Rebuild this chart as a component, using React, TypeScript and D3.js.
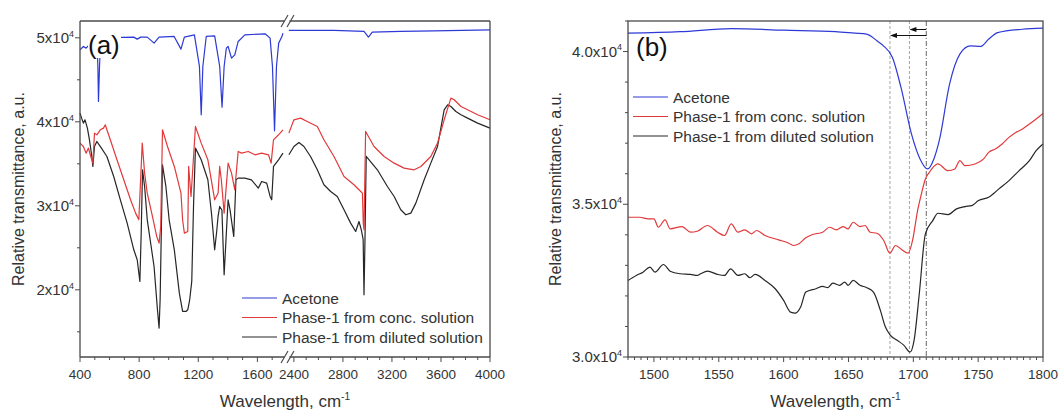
import React, { useEffect, useRef } from 'react';
import * as d3 from 'd3';

// ---- panel (a): full spectra, wavenumber (cm-1) / relative transmittance
const waveAcetoneA = [400, 423, 441, 457, 491, 514, 521, 525, 532, 541, 685, 764, 787, 810, 855, 901, 935, 1037, 1083, 1106, 1174, 1208, 1220, 1231, 1254, 1311, 1345, 1361, 1375, 1390, 1402, 1425, 1447, 1470, 1515, 1652, 1686, 1702, 1716, 1729, 1744, 1766, 1773,
  2359, 2727, 2972, 3008, 3040, 3272, 3545, 4000];
const transAcetoneA = [48571, 48968, 48770, 49048, 50080, 50080, 46587, 42417, 46587, 50080, 50040, 50080, 49841, 50080, 50080, 49365, 50080, 50159, 48651, 50080, 50357, 46587, 40833, 46587, 50159, 50238, 46587, 41746, 46587, 48770, 48968, 47579, 47976, 49563, 50357, 50476, 49960, 46587, 38929, 46587, 49365, 50159, 50556,
  50873, 50873, 50754, 50080, 50675, 50754, 50833, 50952];

const waveConcA = [400, 423, 441, 457, 473, 487, 498, 514, 537, 559, 571, 582, 605, 650, 696, 742, 776, 798, 821, 837, 855, 890, 919, 935, 946, 958, 992, 1038, 1083, 1094, 1106, 1129, 1135, 1151, 1181, 1220, 1265, 1311, 1334, 1345, 1356, 1375, 1402, 1425, 1447, 1470, 1493, 1538, 1584, 1629, 1675, 1693, 1709, 1743, 1773,
  2359, 2400, 2455, 2509, 2591, 2645, 2727, 2809, 2890, 2931, 2959, 2966, 2972, 2985, 3054, 3136, 3218, 3299, 3381, 3436, 3517, 3572, 3626, 3681, 3708, 3763, 3817, 3899, 4000];
const transConcA = [37461, 37064, 36270, 36866, 35873, 35080, 38651, 38453, 39048, 39246, 39643, 39048, 37857, 35476, 33096, 30715, 29127, 28334, 37461, 33889, 31508, 28730, 26349, 25556, 27540, 39048, 37064, 34683, 31508, 28334, 26746, 26945, 34683, 31111, 39445, 37461, 35476, 30715, 31500, 34683, 33096, 29127, 35080, 33889, 31905, 36468, 36270, 36468, 36072, 36270, 36072, 35080, 37857, 38453, 39048,
  38651, 40238, 40437, 40040, 39445, 37857, 35873, 33492, 32500, 31905, 31508, 27937, 27143, 38849, 37064, 35873, 35080, 34484, 34286, 34683, 35873, 37461, 40238, 42818, 42619, 41826, 41429, 40834, 40238];

const waveDilA = [400, 411, 423, 434, 450, 464, 480, 487, 498, 514, 537, 582, 628, 673, 719, 764, 787, 805, 814, 823, 837, 855, 901, 924, 935, 942, 958, 981, 1003, 1038, 1072, 1094, 1117, 1129, 1142, 1156, 1168, 1181, 1220, 1265, 1290, 1311, 1325, 1334, 1345, 1360, 1375, 1390, 1402, 1415, 1440, 1455, 1470, 1515, 1560, 1606, 1629, 1663, 1686, 1697, 1709, 1743, 1773,
  2359, 2400, 2441, 2482, 2536, 2591, 2645, 2700, 2754, 2809, 2863, 2904, 2931, 2950, 2965, 2972, 2980, 2990, 3081, 3163, 3218, 3272, 3313, 3354, 3395, 3463, 3517, 3572, 3626, 3654, 3681, 3722, 3763, 3817, 3899, 4000];
const transDilA = [41032, 40437, 39842, 40238, 39246, 37857, 35873, 34683, 37064, 37659, 37064, 35873, 33492, 30715, 27937, 24762, 23572, 20992, 26746, 34286, 32302, 28334, 22778, 17619, 15436, 18810, 34881, 32302, 28334, 24762, 19603, 17421, 17421, 17619, 18810, 21000, 30000, 36865, 35476, 33096, 29000, 24762, 27000, 28730, 29921, 29500, 21786, 26746, 30715, 29524, 26349, 33096, 33294, 33294, 33096, 32104, 32897, 32699, 31111, 30715, 34683, 35476, 36270,
  36072, 37064, 37540, 37064, 35873, 34286, 32500, 31706, 31111, 29524, 27937, 26945, 28135, 27143, 26000, 19405, 26000, 35873, 34286, 32302, 31111, 29524, 28929, 29127, 30317, 33096, 35080, 37064, 41429, 42024, 41826, 41230, 40834, 40437, 39842, 39246];

// ---- panel (b): carbonyl region
const waveAcetoneB = [1480, 1520, 1560, 1600, 1640, 1655, 1664, 1672, 1677, 1684, 1690.5, 1698.5, 1705, 1711, 1716, 1720, 1728, 1736, 1744, 1752, 1758, 1765, 1784, 1800];
const transAcetoneB = [40601, 40650, 40750, 40700, 40650, 40600, 40570, 40350, 40186, 39800, 38824, 37310, 36500, 36157, 36500, 37082, 38944, 39925, 40186, 40170, 40400, 40620, 40730, 40765];

const waveConcB = [1480, 1489, 1495.6, 1500, 1503.4, 1508.6, 1512.5, 1521.7, 1528.2, 1533.4, 1541.3, 1549.1, 1554.4, 1559.6, 1564.8, 1570, 1575.3, 1579.2, 1585.7, 1596.2, 1604, 1607.9, 1611.8, 1617.1, 1622.3, 1630.1, 1635.4, 1640.6, 1645.8, 1649.7, 1653.6, 1658.9, 1662.8, 1666.7, 1671.9, 1677.2, 1681.9, 1686.3, 1690.2, 1696, 1699.4, 1703.3, 1706, 1709.3, 1712.4, 1718.9, 1726.7, 1732, 1735.9, 1739.8, 1747.6, 1754.2, 1758.1, 1763.3, 1768.5, 1773.8, 1779, 1784.2, 1789.5, 1794.7, 1800];
const transConcB = [34575, 34575, 34523, 34523, 34248, 34490, 34196, 34271, 34085, 34118, 34305, 34085, 33977, 34360, 34085, 34163, 34033, 34141, 33977, 33836, 33726, 33650, 33706, 33902, 34010, 34085, 34248, 34163, 34271, 34196, 34412, 34271, 34305, 34085, 34052, 33814, 33399, 33650, 33543, 33399, 33814, 34794, 35300, 35830, 36046, 36320, 36101, 36157, 36428, 36265, 36320, 36484, 36699, 36810, 36974, 37190, 37353, 37464, 37627, 37791, 37974];

const waveDilB = [1480, 1486.4, 1491.6, 1496.9, 1500.8, 1507.3, 1512.5, 1520.4, 1528.2, 1533.4, 1536, 1541.3, 1549.1, 1554.4, 1559.1, 1564.8, 1570, 1574, 1578, 1585.7, 1593.5, 1600, 1605.3, 1609.2, 1613.1, 1617.1, 1624.9, 1630.1, 1634, 1638, 1643.2, 1647.1, 1649.7, 1653.6, 1658.9, 1664.1, 1669.3, 1674.6, 1678.5, 1682.4, 1687.6, 1692.8, 1697.5, 1700.6, 1704.6, 1709.3, 1715, 1719, 1726.8, 1733.3, 1739.9, 1745.1, 1750.3, 1758.1, 1766, 1773.8, 1781.6, 1789.5, 1794.7, 1800];
const transDilB = [32507, 32670, 32778, 32941, 32778, 33029, 32810, 32725, 32703, 32670, 32725, 32810, 32703, 32670, 32887, 32670, 32725, 32595, 32703, 32507, 32235, 31853, 31471, 31438, 31634, 32124, 32235, 32310, 32270, 32418, 32347, 32451, 32347, 32507, 32347, 32270, 32124, 31526, 30980, 30709, 30546, 30382, 30163, 30546, 32072, 34033, 34467, 34706, 34663, 34850, 34925, 34958, 35121, 35229, 35503, 35775, 36101, 36428, 36755, 36974];

const seriesNames = ['Acetone', 'Phase-1 from conc. solution', 'Phase-1 from diluted solution'];
const seriesColors = ['#2e3ad6', '#e2393b', '#262626'];

const xTicksA = [400, 800, 1200, 1600, 2400, 2800, 3200, 3600, 4000];
const yTicksA = [20000, 30000, 40000, 50000];
const xTicksB = [1500, 1550, 1600, 1650, 1700, 1750, 1800];
const yTicksB = [30000, 35000, 40000];
const markerLinesB = [1682, 1697, 1710];

const FONT = '"Liberation Sans", Arial, sans-serif';
const AXIS = '#4a4a4a';
const TEXT = '#333';

function App() {
  const svgRef = useRef<SVGSVGElement>(null);

  useEffect(() => {
    const svg = d3.select(svgRef.current);
    svg.selectAll('*').remove();
    const top = 21;
    const bottom = 357;

    // superscript helper for labels like 5x10^4
    const supText = (g, x, y, main, sup, size, anchor) => {
      const t = g.append('text')
        .attr('x', x).attr('y', y)
        .attr('text-anchor', anchor)
        .attr('font-family', FONT)
        .attr('font-size', size)
        .attr('fill', TEXT);
      t.append('tspan').text(main);
      t.append('tspan').attr('dy', -size * 0.42).attr('font-size', size * 0.6).text(sup);
      return t;
    };

    const drawLegend = (g, x0, y0) => {
      seriesNames.forEach((name, i) => {
        const y = y0 + i * 19.5;
        g.append('line')
          .attr('x1', x0).attr('x2', x0 + 35)
          .attr('y1', y).attr('y2', y)
          .attr('stroke', seriesColors[i]).attr('stroke-width', 1.2);
        g.append('text')
          .attr('x', x0 + 40).attr('y', y + 5.5)
          .attr('font-family', FONT).attr('font-size', 15.5)
          .attr('fill', TEXT)
          .text(name);
      });
    };

    // ================= panel (a) =================
    const ga = svg.append('g');
    const xa1 = d3.scaleLinear().domain([400, 1780]).range([80, 284]);
    const xa2 = d3.scaleLinear().domain([2360, 4000]).range([289, 490]);
    const xa = (w) => (w < 2000 ? xa1(w) : xa2(w));
    const ya = d3.scaleLinear().domain([12000, 52000]).range([bottom, top]);

    const seriesA = [
      [waveDilA, transDilA, 2],
      [waveConcA, transConcA, 1],
      [waveAcetoneA, transAcetoneA, 0],
    ];
    seriesA.forEach(([ws, ts, ci]) => {
      const pts = ws.map((w, i) => [w, ts[i]]);
      [pts.filter((p) => p[0] < 2000), pts.filter((p) => p[0] > 2000)].forEach((part) => {
        ga.append('path')
          .attr('d', d3.line().x((d) => xa(d[0])).y((d) => ya(d[1]))(part))
          .attr('fill', 'none')
          .attr('stroke', seriesColors[ci])
          .attr('stroke-width', 1.2)
          .attr('stroke-linejoin', 'round');
      });
    });

    // frame with axis break
    const bx1 = 284.5;
    const bx2 = 289.5;
    [[80, bx1], [bx2, 490]].forEach(([a, b]) => {
      ga.append('line').attr('x1', a).attr('x2', b).attr('y1', top).attr('y2', top).attr('stroke', AXIS).attr('stroke-width', 1.3);
      ga.append('line').attr('x1', a).attr('x2', b).attr('y1', bottom).attr('y2', bottom).attr('stroke', AXIS).attr('stroke-width', 1.3);
    });
    ga.append('line').attr('x1', 80).attr('x2', 80).attr('y1', top).attr('y2', bottom).attr('stroke', AXIS).attr('stroke-width', 1.3);
    ga.append('line').attr('x1', 490).attr('x2', 490).attr('y1', top).attr('y2', bottom).attr('stroke', AXIS).attr('stroke-width', 1.3);
    [top, bottom].forEach((yy) => {
      [bx1, bx2 + 1].forEach((bx) => {
        ga.append('line')
          .attr('x1', bx - 3.5).attr('y1', yy + 6)
          .attr('x2', bx + 3.5).attr('y2', yy - 6)
          .attr('stroke', AXIS).attr('stroke-width', 1.2);
      });
    });

    // x ticks (a)
    const minorA = d3.range(400, 1701, 100).concat(d3.range(2400, 4001, 100));
    minorA.forEach((w) => {
      const major = xTicksA.includes(w);
      ga.append('line')
        .attr('x1', xa(w)).attr('x2', xa(w))
        .attr('y1', bottom).attr('y2', bottom + (major ? 5 : 3))
        .attr('stroke', AXIS).attr('stroke-width', 1);
    });
    xTicksA.forEach((w) => {
      ga.append('text')
        .attr('x', xa(w)).attr('y', bottom + 22)
        .attr('text-anchor', 'middle')
        .attr('font-family', FONT).attr('font-size', 13.5)
        .attr('fill', TEXT)
        .text(w);
    });

    // y ticks (a)
    d3.range(15000, 50001, 5000).forEach((v) => {
      const major = yTicksA.includes(v);
      ga.append('line')
        .attr('x1', 80).attr('x2', 80 - (major ? 5 : 3))
        .attr('y1', ya(v)).attr('y2', ya(v))
        .attr('stroke', AXIS).attr('stroke-width', 1);
    });
    yTicksA.forEach((v) => {
      supText(ga, 74, ya(v) + 5, `${v / 10000}x10`, '4', 15, 'end');
    });

    // (a) label on white patch
    ga.append('rect').attr('x', 88).attr('y', 25).attr('width', 33).attr('height', 33).attr('fill', '#fff');
    ga.append('text')
      .attr('x', 88).attr('y', 54)
      .attr('font-family', FONT).attr('font-size', 26)
      .attr('fill', '#111')
      .text('(a)');

    drawLegend(ga, 242, 298);

    supText(ga, 285, 407, 'Wavelength, cm', '-1', 17, 'middle');
    ga.append('text')
      .attr('transform', `translate(24,${(top + bottom) / 2}) rotate(-90)`)
      .attr('text-anchor', 'middle')
      .attr('font-family', FONT).attr('font-size', 16)
      .attr('fill', TEXT)
      .text('Relative transmittance, a.u.');

    // ================= panel (b) =================
    const gb = svg.append('g');
    const left = 628;
    const right = 1043;
    const xb = d3.scaleLinear().domain([1480, 1800]).range([left, right]);
    const yb = d3.scaleLinear().domain([30000, 41000]).range([bottom, top]);

    // marker lines
    markerLinesB.forEach((w, i) => {
      gb.append('line')
        .attr('x1', xb(w)).attr('x2', xb(w))
        .attr('y1', top).attr('y2', bottom)
        .attr('stroke', i === 2 ? '#555' : '#9a9a9a')
        .attr('stroke-width', 0.9)
        .attr('stroke-dasharray', i === 2 ? '5,2,1,2' : '3,2');
    });

    const seriesB = [
      [waveDilB, transDilB, 2],
      [waveConcB, transConcB, 1],
      [waveAcetoneB, transAcetoneB, 0],
    ];
    seriesB.forEach(([ws, ts, ci]) => {
      const pts = ws.map((w, i) => [w, ts[i]]);
      gb.append('path')
        .attr('d', d3.line().curve(d3.curveMonotoneX).x((d) => xb(d[0])).y((d) => yb(d[1]))(pts))
        .attr('fill', 'none')
        .attr('stroke', seriesColors[ci])
        .attr('stroke-width', 1.2);
    });

    // shift arrows
    const arrow = (fromW, toW, yy) => {
      const x1 = xb(fromW);
      const x2 = xb(toW);
      gb.append('line').attr('x1', x1).attr('x2', x2 + 5).attr('y1', yy).attr('y2', yy)
        .attr('stroke', '#111').attr('stroke-width', 1);
      gb.append('path')
        .attr('d', `M${x2},${yy} L${x2 + 7},${yy - 2.5} L${x2 + 7},${yy + 2.5} Z`)
        .attr('fill', '#111');
    };
    arrow(markerLinesB[2], markerLinesB[1], top + 8.5);
    arrow(markerLinesB[2], markerLinesB[0], top + 14.5);

    // frame
    gb.append('rect')
      .attr('x', left).attr('y', top)
      .attr('width', right - left).attr('height', bottom - top)
      .attr('fill', 'none').attr('stroke', AXIS).attr('stroke-width', 1.3);

    d3.range(1480, 1801, 5).forEach((w) => {
      const major = xTicksB.includes(w);
      gb.append('line')
        .attr('x1', xb(w)).attr('x2', xb(w))
        .attr('y1', bottom).attr('y2', bottom + (major ? 5 : 3))
        .attr('stroke', AXIS).attr('stroke-width', 1);
    });
    xTicksB.forEach((w) => {
      gb.append('text')
        .attr('x', xb(w)).attr('y', bottom + 22)
        .attr('text-anchor', 'middle')
        .attr('font-family', FONT).attr('font-size', 13.5)
        .attr('fill', TEXT)
        .text(w);
    });
    d3.range(30000, 41001, 1000).forEach((v) => {
      const major = yTicksB.includes(v);
      gb.append('line')
        .attr('x1', left).attr('x2', left - (major ? 5 : 3))
        .attr('y1', yb(v)).attr('y2', yb(v))
        .attr('stroke', AXIS).attr('stroke-width', 1);
    });
    yTicksB.forEach((v) => {
      supText(gb, left - 6, yb(v) + 5, `${(v / 10000).toFixed(1)}x10`, '4', 15, 'end');
    });

    gb.append('text')
      .attr('x', 636).attr('y', 56)
      .attr('font-family', FONT).attr('font-size', 26)
      .attr('fill', '#111')
      .text('(b)');

    drawLegend(gb, 633, 97);

    supText(gb, (left + right) / 2, 407, 'Wavelength, cm', '-1', 17, 'middle');
    gb.append('text')
      .attr('transform', `translate(561,${(top + bottom) / 2}) rotate(-90)`)
      .attr('text-anchor', 'middle')
      .attr('font-family', FONT).attr('font-size', 16)
      .attr('fill', TEXT)
      .text('Relative transmittance, a.u.');
  }, []);

  return (
    <div style={{ position: 'absolute', left: 0, top: 0, background: '#fff' }}>
      <svg ref={svgRef} width={1062} height={412} />
    </div>
  );
}

export default App;
